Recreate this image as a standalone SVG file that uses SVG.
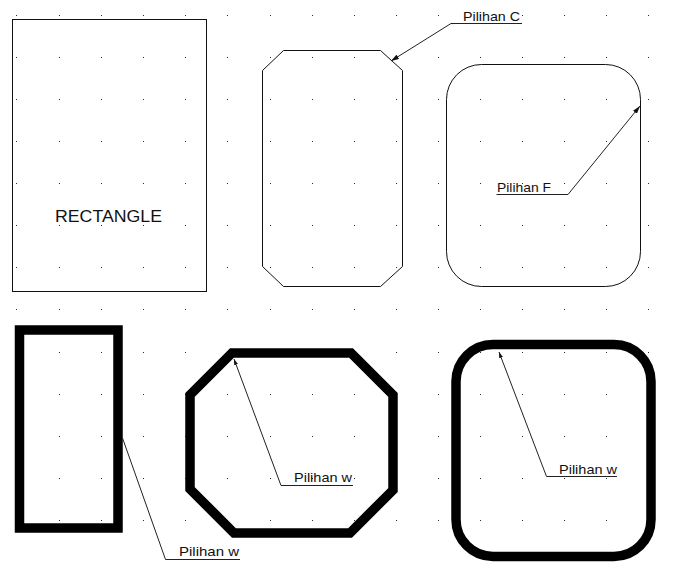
<svg xmlns="http://www.w3.org/2000/svg" xmlns:xlink="http://www.w3.org/1999/xlink" width="683" height="562" viewBox="0 0 683 562">
<style>
.thin{fill:none;stroke:#111;stroke-width:1}
.thick{fill:none;stroke:#000;stroke-width:9.5;stroke-linejoin:miter}
.lead{fill:none;stroke:#222;stroke-width:1}
.lbl{font-family:"Liberation Sans",Arial,sans-serif;font-size:13px;fill:#111}
.big{font-family:"Liberation Sans",Arial,sans-serif;font-size:17px;fill:#111}
.dots{fill:#2a2a2a}
</style>
<defs>
<marker id="arr" markerUnits="userSpaceOnUse" markerWidth="8" markerHeight="5" refX="8" refY="2.5" orient="auto-start-reverse"><path d="M0 0L8 2.5L0 5z" fill="#111"/></marker>
<marker id="arrs" markerUnits="userSpaceOnUse" markerWidth="6" markerHeight="4" refX="6" refY="2" orient="auto-start-reverse"><path d="M0 0L6 2L0 4z" fill="#111"/></marker>
<path id="row" d="M16 0h1v1h-1zm43 0h1v1h-1zm42 0h1v1h-1zm42 0h1v1h-1zm42 0h1v1h-1zm42 0h1v1h-1zm43 0h1v1h-1zm42 0h1v1h-1zm42 0h1v1h-1zm42 0h1v1h-1zm42 0h1v1h-1zm42 0h1v1h-1zm42 0h1v1h-1zm42 0h1v1h-1zm42 0h1v1h-1zm42 0h1v1h-1z"/>
</defs>
<rect width="683" height="562" fill="#fff"/>
<g id="grid" class="dots">
<use xlink:href="#row" y="15"/><use xlink:href="#row" y="57"/><use xlink:href="#row" y="99"/><use xlink:href="#row" y="141"/><use xlink:href="#row" y="183"/><use xlink:href="#row" y="225"/><use xlink:href="#row" y="267"/><use xlink:href="#row" y="309"/><use xlink:href="#row" y="352"/><use xlink:href="#row" y="394"/><use xlink:href="#row" y="436"/><use xlink:href="#row" y="478"/><use xlink:href="#row" y="520"/>
</g>
<g id="rectangle">
<rect class="thin" x="12.5" y="19.5" width="194" height="272"/>
<text class="big" x="55" y="222" textLength="107" lengthAdjust="spacingAndGlyphs">RECTANGLE</text>
</g>
<g id="octagon">
<polygon class="thin" points="283.5,50.5 380.5,50.5 402.5,70.5 402.5,266.5 380.5,286.5 283.5,286.5 262.5,266.5 262.5,70.5"/>
</g>
<g id="roundrect">
<rect class="thin" x="446.5" y="64.5" width="194" height="222" rx="35" ry="35"/>
</g>
<g id="thickrect">
<rect class="thick" x="19.5" y="330" width="98.5" height="198"/>
</g>
<g id="thickoctagon">
<polygon class="thick" points="232,353 351,353 393,395 393,490 350,533 234,533 190,489 190,395"/>
</g>
<g id="thickroundrect">
<rect class="thick" x="456" y="344.5" width="195" height="212" rx="37" ry="37"/>
</g>
<g id="connectors">
<path class="lead" d="M391 61L451 23.5H522" marker-start="url(#arr)"/>
<path class="lead" d="M640 106L568 194.5H496.5" marker-start="url(#arr)"/>
<path class="lead" d="M122.5 438L165.5 559.5H240"/>
<path class="lead" d="M234 359L281 485.5H353" marker-start="url(#arrs)"/>
<path class="lead" d="M499 352L546.5 476.5H617" marker-start="url(#arrs)"/>
</g>
<g id="labels">
<text class="lbl" x="463" y="21" textLength="57" lengthAdjust="spacingAndGlyphs">Pilihan C</text>
<text class="lbl" x="497" y="192" textLength="54" lengthAdjust="spacingAndGlyphs">Pilihan F</text>
<text class="lbl" x="179" y="556" textLength="60" lengthAdjust="spacingAndGlyphs">Pilihan w</text>
<text class="lbl" x="294" y="482" textLength="58" lengthAdjust="spacingAndGlyphs">Pilihan w</text>
<text class="lbl" x="559" y="474" textLength="58" lengthAdjust="spacingAndGlyphs">Pilihan w</text>
</g>
</svg>
